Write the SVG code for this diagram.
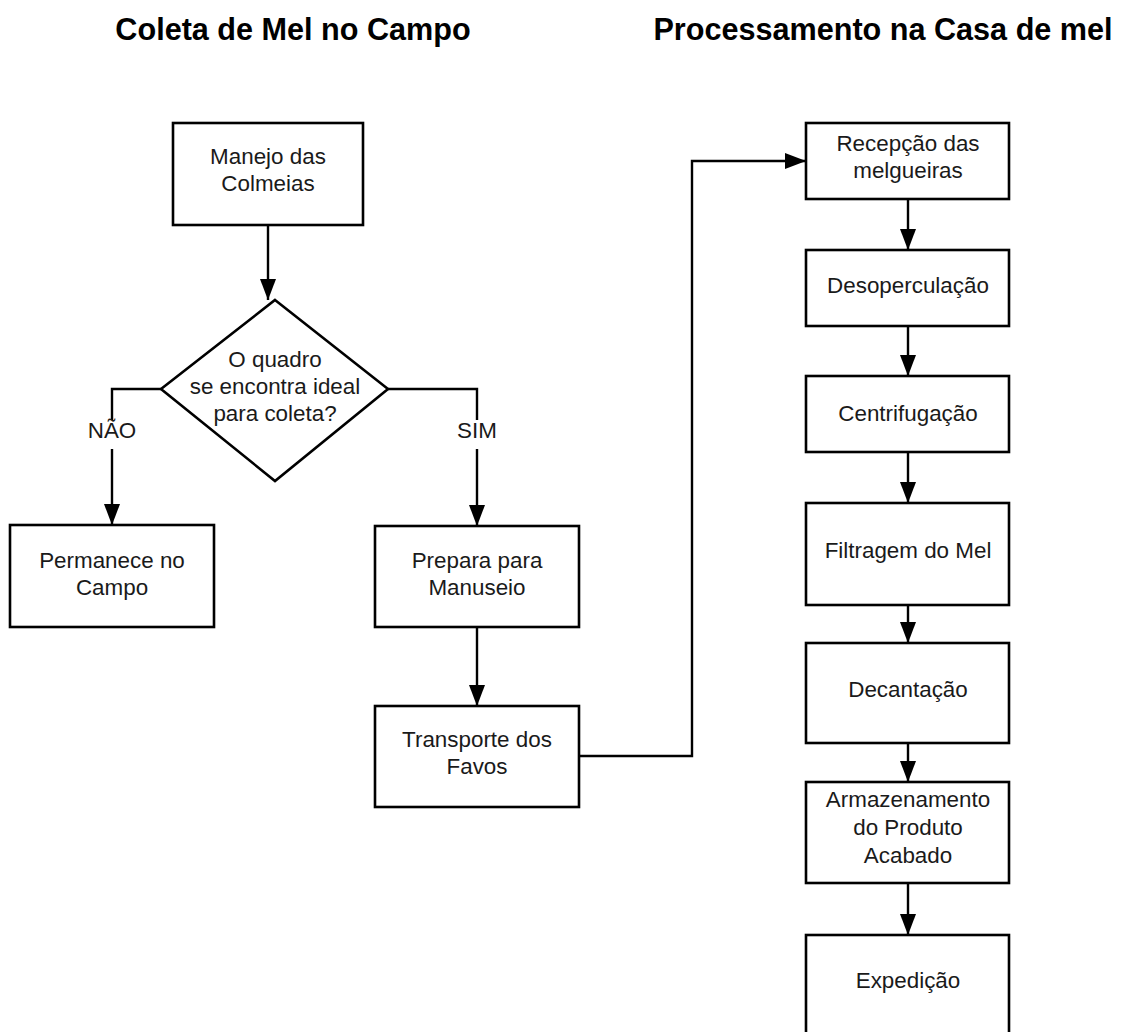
<svg xmlns="http://www.w3.org/2000/svg" width="1123" height="1032" viewBox="0 0 1123 1032">
<style>
  .box { fill: #ffffff; stroke: #000000; stroke-width: 2.6; }
  .line { fill: none; stroke: #000000; stroke-width: 2.4; }
  .t { font-family: "Liberation Sans", Arial, sans-serif; font-size: 22.4px; fill: #1a1a1a; text-anchor: middle; }
  .title { font-family: "Liberation Sans", Arial, sans-serif; font-size: 30.6px; font-weight: bold; fill: #000000; text-anchor: middle; }
</style>
<defs>
  <marker id="arr" markerUnits="userSpaceOnUse" markerWidth="22" markerHeight="16" refX="21" refY="8" orient="auto">
    <path d="M0,0 L21,8 L0,16 Z" fill="#000000"/>
  </marker>
</defs>
<rect width="1123" height="1032" fill="#ffffff"/>

<g id="titles">
  <text class="title" x="293" y="40">Coleta de Mel no Campo</text>
  <text class="title" x="883" y="40">Processamento na Casa de mel</text>
</g>

<g id="connectors">
  <path class="line" d="M268,225 L268,300" marker-end="url(#arr)"/>
  <path class="line" d="M161,389 L112,389 L112,420"/>
  <path class="line" d="M112,449 L112,525" marker-end="url(#arr)"/>
  <path class="line" d="M388,389 L477,389 L477,420"/>
  <path class="line" d="M477,449 L477,526" marker-end="url(#arr)"/>
  <path class="line" d="M477,627 L477,706" marker-end="url(#arr)"/>
  <path class="line" d="M579,756 L692,756 L692,161 L806,161" marker-end="url(#arr)"/>
  <path class="line" d="M908,199 L908,250" marker-end="url(#arr)"/>
  <path class="line" d="M908,326 L908,376" marker-end="url(#arr)"/>
  <path class="line" d="M908,452 L908,503" marker-end="url(#arr)"/>
  <path class="line" d="M908,605 L908,643" marker-end="url(#arr)"/>
  <path class="line" d="M908,743 L908,782" marker-end="url(#arr)"/>
  <path class="line" d="M908,883 L908,935" marker-end="url(#arr)"/>
  <text class="t" x="112" y="438">NÃO</text>
  <text class="t" x="477" y="438">SIM</text>
</g>

<g id="manejo">
  <rect class="box" x="173" y="123" width="190" height="102"/>
  <text class="t" x="268" y="164">Manejo das</text>
  <text class="t" x="268" y="191">Colmeias</text>
</g>

<g id="decisao">
  <polygon class="box" points="275,300 388,389 275,481 161,389"/>
  <text class="t" x="275" y="367">O quadro</text>
  <text class="t" x="275" y="394">se encontra ideal</text>
  <text class="t" x="275" y="421">para coleta?</text>
</g>

<g id="permanece">
  <rect class="box" x="10" y="525" width="204" height="102"/>
  <text class="t" x="112" y="568">Permanece no</text>
  <text class="t" x="112" y="595">Campo</text>
</g>

<g id="prepara">
  <rect class="box" x="375" y="526" width="204" height="101"/>
  <text class="t" x="477" y="568">Prepara para</text>
  <text class="t" x="477" y="595">Manuseio</text>
</g>

<g id="transporte">
  <rect class="box" x="375" y="706" width="204" height="101"/>
  <text class="t" x="477" y="747">Transporte dos</text>
  <text class="t" x="477" y="774">Favos</text>
</g>

<g id="recepcao">
  <rect class="box" x="806" y="123" width="203" height="76"/>
  <text class="t" x="908" y="151">Recepção das</text>
  <text class="t" x="908" y="178">melgueiras</text>
</g>

<g id="desoperculacao">
  <rect class="box" x="806" y="250" width="203" height="76"/>
  <text class="t" x="908" y="293">Desoperculação</text>
</g>

<g id="centrifugacao">
  <rect class="box" x="806" y="376" width="203" height="76"/>
  <text class="t" x="908" y="421">Centrifugação</text>
</g>

<g id="filtragem">
  <rect class="box" x="806" y="503" width="203" height="102"/>
  <text class="t" x="908" y="558">Filtragem do Mel</text>
</g>

<g id="decantacao">
  <rect class="box" x="806" y="643" width="203" height="100"/>
  <text class="t" x="908" y="697">Decantação</text>
</g>

<g id="armazenamento">
  <rect class="box" x="806" y="782" width="203" height="101"/>
  <text class="t" x="908" y="807">Armazenamento</text>
  <text class="t" x="908" y="835">do Produto</text>
  <text class="t" x="908" y="863">Acabado</text>
</g>

<g id="expedicao">
  <rect class="box" x="806" y="935" width="203" height="101"/>
  <text class="t" x="908" y="988">Expedição</text>
</g>
</svg>
